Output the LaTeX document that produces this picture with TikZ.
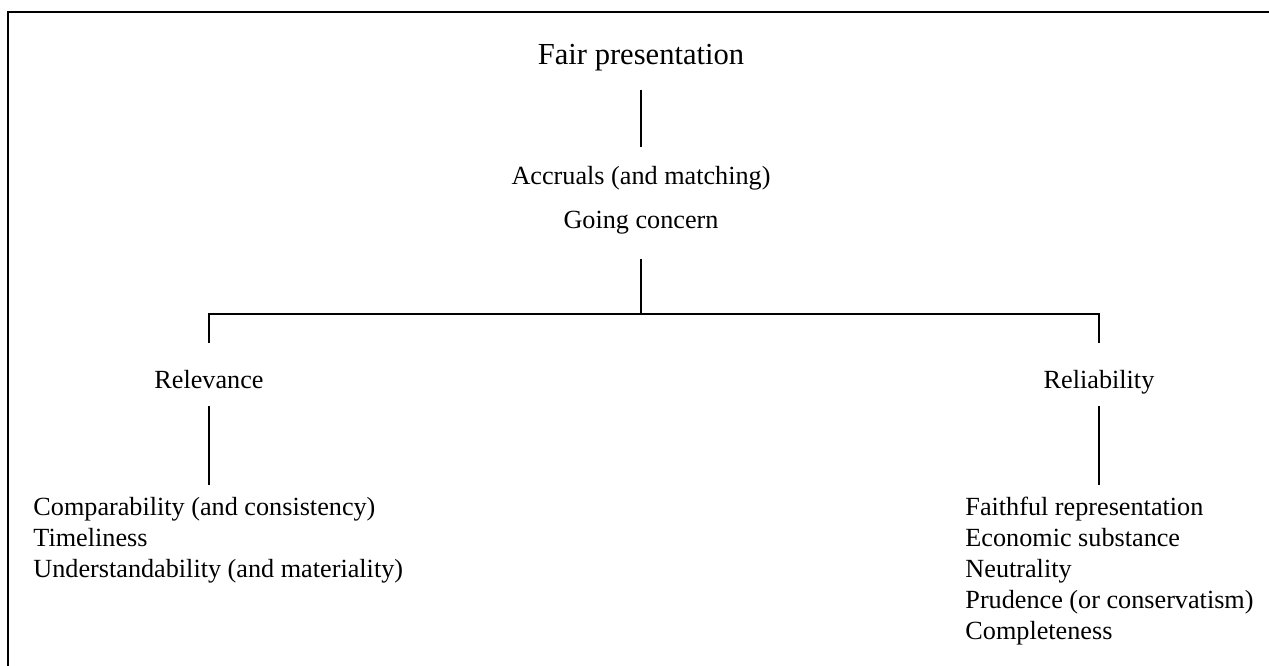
\documentclass[tikz,border=0pt]{standalone}
\usepackage{fontspec}
\setmainfont{Liberation Serif}
\usetikzlibrary{positioning, calc}
\tikzset{
    term/.style={inner sep=0pt, anchor=base, text height=0.7em, text depth=0.22em, font=\fontsize{12}{14}\selectfont},
    headTerm/.style={term, font=\fontsize{14}{16}\selectfont},
    itemList/.style={inner sep=0pt, anchor=north west, align=left, font=\fontsize{12}{14.2}\selectfont},
    treeLine/.style={line width=0.65pt},
    frameLine/.style={line width=1pt},
}
\newcommand{\drawLink}[4]{
    \draw[treeLine, shorten <=#3, shorten >=#4] (#1) -- (#2);
}

\begin{document}
\begin{tikzpicture}[x=0.458pt, y=-0.458pt]
        \useasboundingbox (0,0) rectangle (1269,666);
        % frame, open on the right and at the bottom
        \draw[frameLine] (8,666) |- (1269,12);

        \node[headTerm] (fair) at (641,65) {Fair presentation};
        \node[term] (accr) at (641,185) {Accruals (and matching)};
        \node[term] (going) at (641,229) {Going concern};
        \coordinate (junc) at (641,314);
        \node[term] (relv) at (209,389) {Relevance};
        \node[term] (relb) at (1099,389) {Reliability};

        \node[itemList] (relvList) at (33,497) {Comparability (and consistency)\\Timeliness\\Understandability (and materiality)};
        \node[itemList] (relbList) at (965,497) {Faithful representation\\Economic substance\\Neutrality\\Prudence (or conservatism)\\Completeness};

        \drawLink{fair}{accr}{9.2pt}{10pt}
        \drawLink{going}{junc}{11.5pt}{0pt}
        \draw[treeLine, shorten >=14pt] (junc) -| (relv);
        \draw[treeLine, shorten >=14pt] (junc) -| (relb);
        \drawLink{relv}{relv |- relvList.north}{5.5pt}{5.5pt}
        \drawLink{relb}{relb |- relbList.north}{5.5pt}{5.5pt}

    \end{tikzpicture}
\end{document}
